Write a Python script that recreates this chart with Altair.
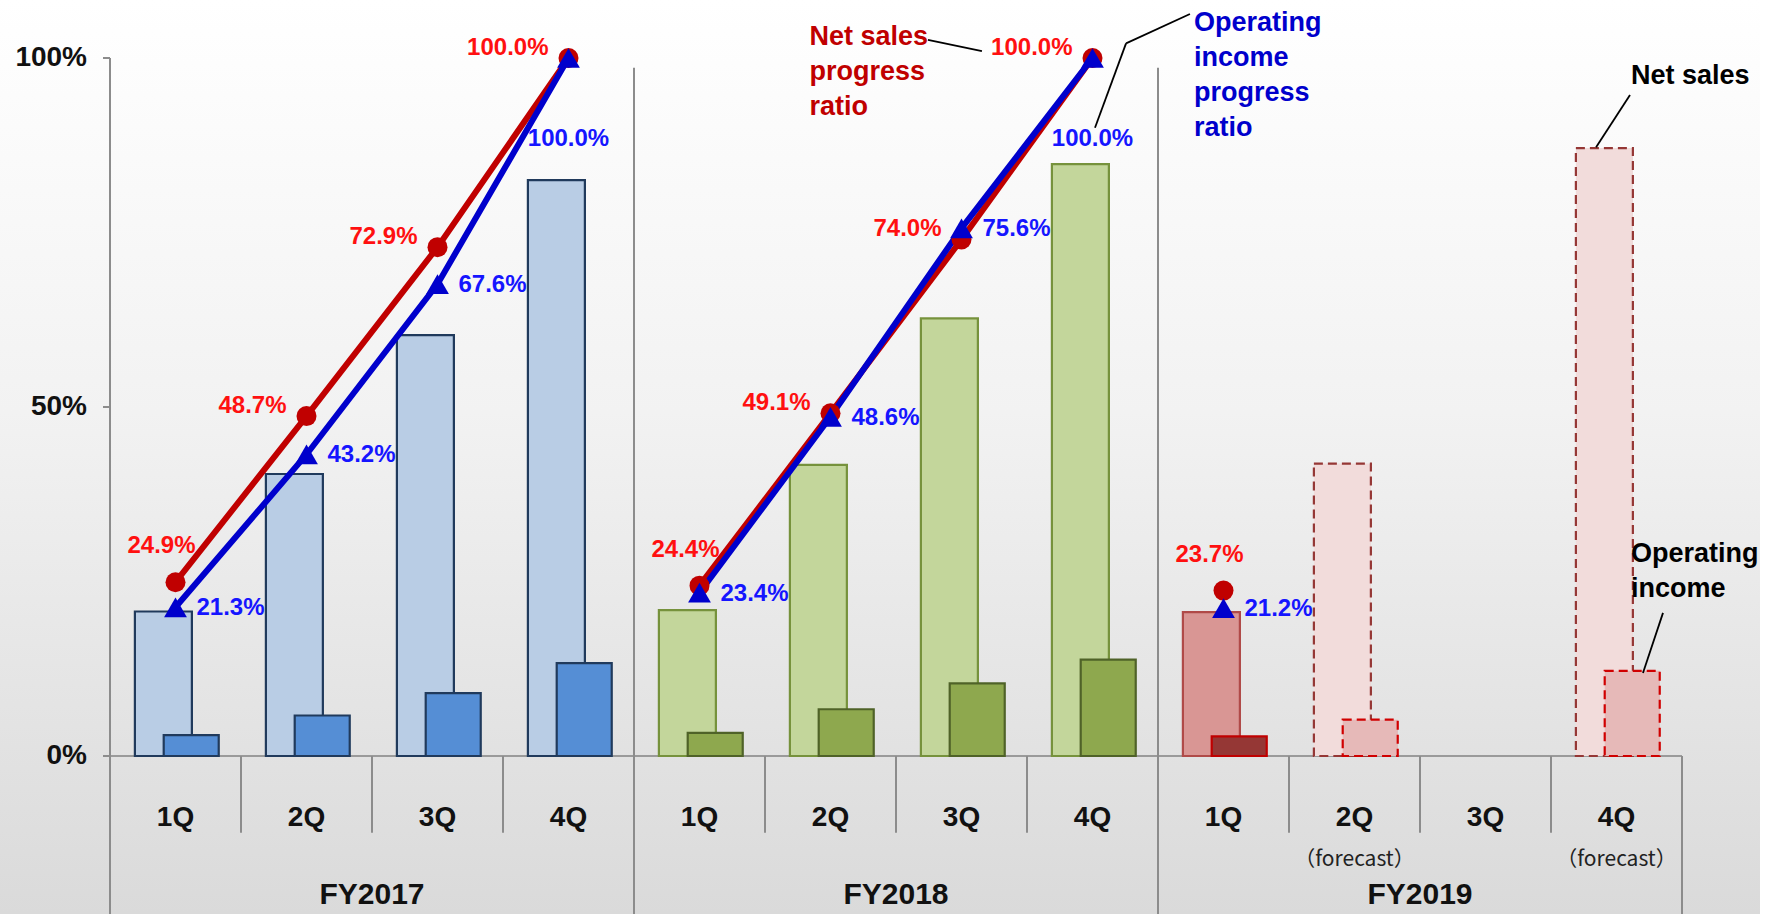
import altair as alt
import pandas as pd

# ---------------- data ----------------
fiscal_years = ["FY2017"] * 4 + ["FY2018"] * 4 + ["FY2019"] * 4
quarters = ["1Q", "2Q", "3Q", "4Q"] * 3
sub_labels = ["", "", "", "", "", "", "", "", "", "（forecast）", "", "（forecast）"]
bar_style = ["FY2017"] * 4 + ["FY2018"] * 4 + ["FY2019", "FY2019 forecast", "none", "FY2019 forecast"]
net_sales_bar = [20.7, 40.4, 60.3, 82.5, 20.9, 41.7, 62.7, 84.8, 20.6, 41.9, None, 87.1]
op_income_bar = [3.0, 5.8, 9.0, 13.3, 3.3, 6.7, 10.4, 13.8, 2.8, 5.2, None, 12.2]
ns_ratio = [24.9, 48.7, 72.9, 100.0, 24.4, 49.1, 74.0, 100.0, 23.7, None, None, None]
oi_ratio = [21.3, 43.2, 67.6, 100.0, 23.4, 48.6, 75.6, 100.0, 21.2, None, None, None]
y_ticks = [0, 50, 100]
y_tick_labels = ["0%", "50%", "100%"]

FONT = "Liberation Sans, Arial, sans-serif"

idx = list(range(12))
df = pd.DataFrame({
    "i": idx, "fy": fiscal_years, "q": quarters, "sub": sub_labels,
    "style": bar_style, "ns": net_sales_bar, "oi": op_income_bar,
    "nsr": ns_ratio, "oir": oi_ratio,
})

X = alt.Scale(domain=[0, 12], nice=False, zero=False)
Y = alt.Scale(domain=[0, 100], nice=False, zero=False)

styles = ["FY2017", "FY2018", "FY2019", "FY2019 forecast"]
ns_fill = ["#B9CDE5", "#C3D69B", "#D99694", "#F2DCDB"]
ns_stroke = ["#203A5C", "#76923C", "#B04A48", "#953735"]
oi_fill = ["#558ED5", "#8EA84E", "#953735", "#E6B9B8"]
oi_stroke = ["#203A5C", "#4F6228", "#C00000", "#D00000"]
dashes = [[1, 0], [1, 0], [1, 0], [9, 5]]

# background
bg = alt.Chart(pd.DataFrame({"a": [0]})).mark_rect(
    color=alt.LinearGradient(
        gradient="linear", x1=0, x2=0, y1=0, y2=1,
        stops=[alt.GradientStop(color="#FFFFFF", offset=0),
               alt.GradientStop(color="#F2F2F2", offset=0.45),
               alt.GradientStop(color="#DADADA", offset=1)])
).encode(x=alt.value(-110), x2=alt.value(1650), y=alt.value(-58), y2=alt.value(856))

bars_base = alt.Chart(df).transform_filter("datum.ns != null")


def bar_layer(field, lo, hi, fills, strokes, shadow=False):
    c = bars_base.transform_calculate(
        x0=f"datum.i + {lo}", x1=f"datum.i + {hi}", zero="0")
    enc = dict(
        x=alt.X("x0:Q", scale=X, axis=None),
        x2="x1:Q",
        y=alt.Y(f"{field}:Q", scale=Y, axis=None),
        y2="zero:Q",
    )
    if shadow:
        return c.mark_bar(color="#000000", opacity=0.14, xOffset=5, yOffset=2).encode(**enc)
    return c.mark_bar(strokeWidth=2.2).encode(
        **enc,
        fill=alt.Fill("style:N", scale=alt.Scale(domain=styles, range=fills), legend=None),
        stroke=alt.Stroke("style:N", scale=alt.Scale(domain=styles, range=strokes), legend=None),
        strokeDash=alt.StrokeDash("style:N", scale=alt.Scale(domain=styles, range=dashes), legend=None),
    )


ns_shadow = bar_layer("ns", 0.19, 0.625, ns_fill, ns_stroke, shadow=True)
ns_bars = bar_layer("ns", 0.19, 0.625, ns_fill, ns_stroke)
oi_shadow = bar_layer("oi", 0.41, 0.83, oi_fill, oi_stroke, shadow=True)
oi_bars = bar_layer("oi", 0.41, 0.83, oi_fill, oi_stroke)

# y axis drawn with marks
ytk = pd.DataFrame({"v": y_ticks, "lab": y_tick_labels, "z": [0, 0, 0]})
y_ticks_rule = alt.Chart(ytk).mark_rule(color="#8C8C8C", strokeWidth=2, xOffset=-7).encode(
    x=alt.X("z:Q", scale=X, axis=None), x2="z:Q",
    y=alt.Y("v:Q", scale=Y, axis=None))
y_labels = alt.Chart(ytk).mark_text(
    font=FONT, fontSize=28, fontWeight="bold", color="#111111",
    align="right", baseline="middle", dx=-23).encode(
    x=alt.X("z:Q", scale=X, axis=None), y=alt.Y("v:Q", scale=Y, axis=None), text="lab:N")

# divider rules
div_df = pd.DataFrame({
    "x": [0, 12, 1, 2, 3, 5, 6, 7, 9, 10, 11, 4, 8],
    "y": [100, 0, 0, 0, 0, 0, 0, 0, 0, 0, 0, 98.6, 98.6],
    "y2": [-22.7, -22.7, -11, -11, -11, -11, -11, -11, -11, -11, -11, -22.7, -22.7],
})
dividers = alt.Chart(div_df).mark_rule(color="#8C8C8C", strokeWidth=2).encode(
    x=alt.X("x:Q", scale=X, axis=None),
    y=alt.Y("y:Q", scale=Y, axis=None), y2="y2:Q")
zero_line = alt.Chart(pd.DataFrame({"x": [0], "x2": [12], "y": [0]})).mark_rule(
    color="#9A9A9A", strokeWidth=2).encode(
    x=alt.X("x:Q", scale=X, axis=None), x2="x2:Q", y=alt.Y("y:Q", scale=Y, axis=None))

# category labels
cat = alt.Chart(df).transform_calculate(xc="datum.i + 0.5", yq="-8.9", ys="-14.9")
q_text = cat.mark_text(font=FONT, fontSize=28, fontWeight="bold", color="#111111",
                       baseline="middle").encode(
    x=alt.X("xc:Q", scale=X, axis=None), y=alt.Y("yq:Q", scale=Y, axis=None), text="q:N")
sub_text = cat.transform_filter("datum.sub != ''").mark_text(
    font="Noto Sans CJK JP", fontSize=21, color="#222222", baseline="middle").encode(
    x=alt.X("xc:Q", scale=X, axis=None), y=alt.Y("ys:Q", scale=Y, axis=None), text="sub:N")
fy_df = pd.DataFrame({"fy": ["FY2017", "FY2018", "FY2019"], "xc": [2, 6, 10], "y": [-19.9] * 3})
fy_text = alt.Chart(fy_df).mark_text(font=FONT, fontSize=30, fontWeight="bold", color="#111111",
                                     baseline="middle").encode(
    x=alt.X("xc:Q", scale=X, axis=None), y=alt.Y("y:Q", scale=Y, axis=None), text="fy:N")

# progress lines
pts = alt.Chart(df).transform_filter("datum.nsr != null").transform_calculate(xc="datum.i + 0.5")
ns_line = pts.mark_line(color="#C00000", strokeWidth=6).encode(
    x=alt.X("xc:Q", scale=X, axis=None), y=alt.Y("nsr:Q", scale=Y, axis=None), detail="fy:N")
oi_line = pts.mark_line(color="#0000CC", strokeWidth=6).encode(
    x=alt.X("xc:Q", scale=X, axis=None), y=alt.Y("oir:Q", scale=Y, axis=None), detail="fy:N")
ns_pt = pts.mark_point(shape="circle", filled=True, size=400, color="#C00000", opacity=1).encode(
    x=alt.X("xc:Q", scale=X, axis=None), y=alt.Y("nsr:Q", scale=Y, axis=None))
oi_pt = pts.mark_point(shape="triangle-up", filled=True, size=520, color="#0000CC", opacity=1).encode(
    x=alt.X("xc:Q", scale=X, axis=None), y=alt.Y("oir:Q", scale=Y, axis=None))

lab = pts.transform_calculate(
    nsl="format(datum.nsr, '.1f') + '%'", oil="format(datum.oir, '.1f') + '%'")
VAL = dict(font=FONT, fontSize=24, fontWeight="bold")
ns_lab_1q = lab.transform_filter("datum.q == '1Q'").mark_text(
    **VAL, color="#FF1010", align="center", baseline="middle", dx=-14, dy=-36).encode(
    x=alt.X("xc:Q", scale=X, axis=None), y=alt.Y("nsr:Q", scale=Y, axis=None), text="nsl:N")
ns_lab = lab.transform_filter("datum.q != '1Q'").mark_text(
    **VAL, color="#FF1010", align="right", baseline="middle", dx=-20, dy=-10).encode(
    x=alt.X("xc:Q", scale=X, axis=None), y=alt.Y("nsr:Q", scale=Y, axis=None), text="nsl:N")
oi_lab = lab.transform_filter("datum.q != '4Q'").mark_text(
    **VAL, color="#1515FF", align="left", baseline="middle", dx=21, dy=1).encode(
    x=alt.X("xc:Q", scale=X, axis=None), y=alt.Y("oir:Q", scale=Y, axis=None), text="oil:N")
oi_lab_4q = lab.transform_filter("datum.q == '4Q'").mark_text(
    **VAL, color="#1515FF", align="center", baseline="middle", dy=81).encode(
    x=alt.X("xc:Q", scale=X, axis=None), y=alt.Y("oir:Q", scale=Y, axis=None), text="oil:N")

# annotations (positions in data units; y is the first line)
ann_df = pd.DataFrame({
    "t": ["Net sales\nprogress\nratio", "Operating\nincome\nprogress\nratio",
          "Net sales", "Operating\nincome"],
    "x": [5.34, 8.275, 11.61, 11.61],
    "y": [103.0, 105.0, 97.4, 28.9],
    "c": ["#C00000", "#0000CC", "#000000", "#000000"],
})
ann = alt.Chart(ann_df).mark_text(
    font=FONT, fontSize=27, fontWeight="bold", align="left", baseline="middle",
    lineBreak="\n", lineHeight=35).encode(
    x=alt.X("x:Q", scale=X, axis=None), y=alt.Y("y:Q", scale=Y, axis=None),
    text="t:N", color=alt.Color("c:N", scale=None))
lead_df = pd.DataFrame({
    "x": [6.244, 8.244, 7.756, 11.603, 11.855],
    "y": [102.6, 106.3, 102.1, 94.7, 20.5],
    "x2": [6.656, 7.756, 7.519, 11.344, 11.702],
    "y2": [101.0, 102.1, 90.0, 87.2, 11.9],
})
leaders = alt.Chart(lead_df).mark_rule(color="#000000", strokeWidth=1.8).encode(
    x=alt.X("x:Q", scale=X, axis=None), x2="x2:Q",
    y=alt.Y("y:Q", scale=Y, axis=None), y2="y2:Q")

chart = alt.layer(
    bg, zero_line, dividers, y_ticks_rule, y_labels,
    ns_shadow, ns_bars, oi_shadow, oi_bars,
    ns_line, oi_line, ns_pt, oi_pt,
    ns_lab_1q, ns_lab, oi_lab, oi_lab_4q,
    q_text, sub_text, fy_text, ann, leaders,
).resolve_scale(
    fill="independent", stroke="independent", strokeDash="independent"
).properties(
    width=1572, height=698,
    autosize=alt.AutoSizeParams(type="none"),
    padding={"left": 110, "top": 58, "right": 92, "bottom": 158},
    background="#FFFFFF",
).configure_view(strokeWidth=0)

chart.save("out.html", embed_options={"renderer": "svg", "actions": False})
